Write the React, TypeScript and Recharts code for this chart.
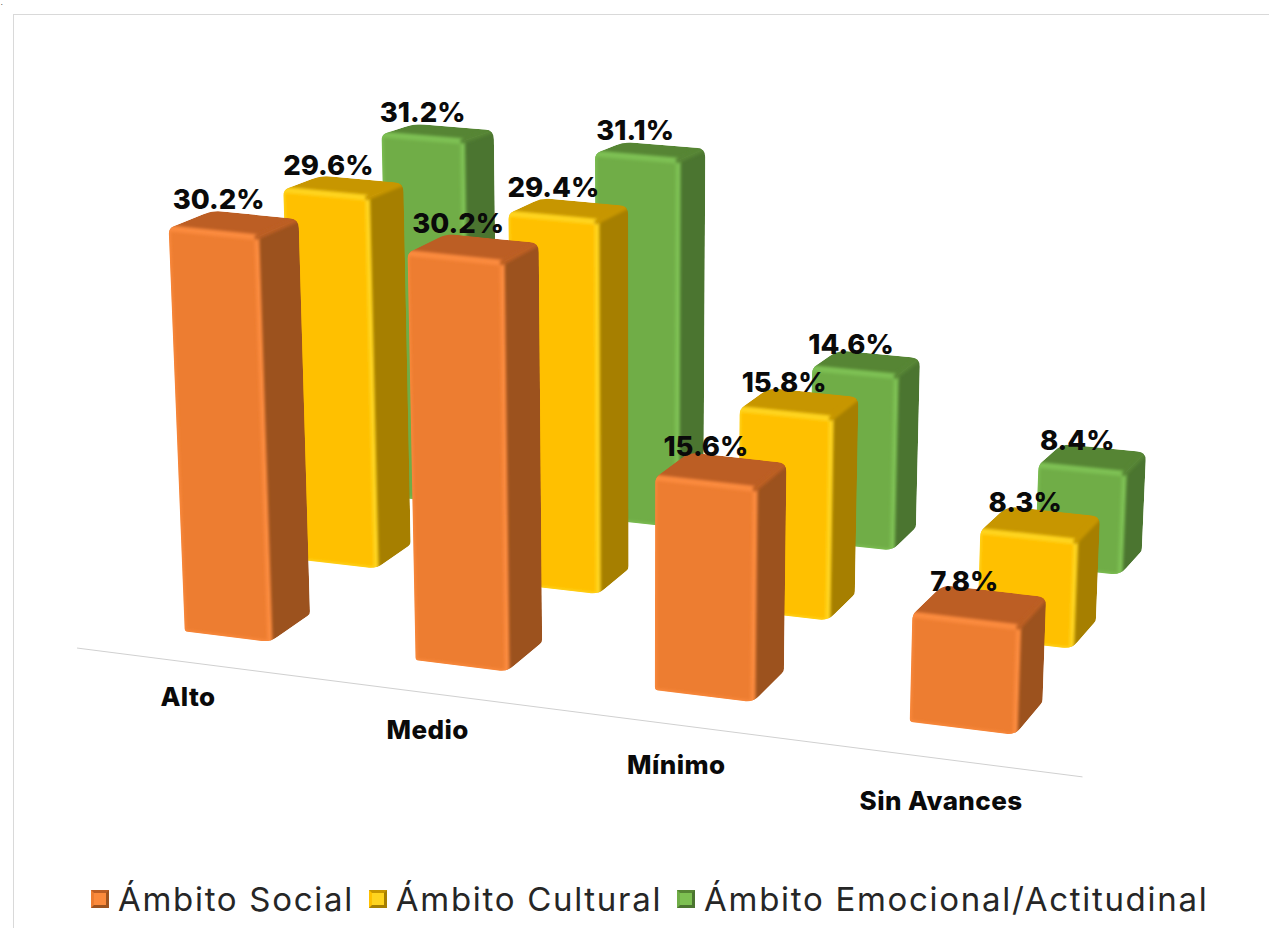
import React from "react";
import { BarChart, Bar, XAxis, YAxis, Legend, LabelList } from "recharts";

const CATEGORIES = ["Alto", "Medio", "Mínimo", "Sin Avances"];
const SOCIAL = [30.2, 30.2, 15.6, 7.8];
const CULTURAL = [29.6, 29.4, 15.8, 8.3];
const EMOCIONAL = [31.2, 31.1, 14.6, 8.4];

const SERIES_NAMES = ["Ámbito Social", "Ámbito Cultural", "Ámbito Emocional/Actitudinal"];

const rows = CATEGORIES.map((name, i) => ({
  name,
  social: SOCIAL[i],
  cultural: CULTURAL[i],
  emocional: EMOCIONAL[i],
}));

const PALETTE = [
  { front: "#ED7D31", edge: "#FB8A3C", top: "#BC5E24", side: "#9C521E" },
  { front: "#FFC000", edge: "#FFD41F", top: "#C79600", side: "#A67F00" },
  { front: "#70AD47", edge: "#7DC052", top: "#568534", side: "#4B7530" },
];

const WIDTH = 1269;
const HEIGHT = 928;
const FONT = "Inter, 'Open Sans', sans-serif";

// floor plane: p runs along the categories, q runs back through the series
const CAT_P = [0, 0.3355, 0.666, 1];
const SERIES_Q = 0.5;
const BAR_Q = 0.18;
const FLOOR = { a: 667.9, b: 270.5, c: 270, d: 37.1, e: -58.8, f: 642, g: -0.076, h: 0.1549 };
const VANISH_X = 640;
const VANISH_Y = 12000;

type Pt = [number, number];

const ground = (p: number, q: number): Pt => {
  const { a, b, c, d, e, f, g, h } = FLOOR;
  const w = g * p + h * q + 1;
  return [(a * p + b * q + c) / w, (d * p + e * q + f) / w];
};

// rise above the floor, verticals lean towards a point far below the chart
const lift = (p: number, q: number, px: number): Pt => {
  const [x, y] = ground(p, q);
  const rise = px * (1 + 0.03 * p - 0.13 * q);
  return [x + ((x - VANISH_X) * rise) / (VANISH_Y - y), y - rise];
};

const barBox = (index: number, series: number, px: number) => {
  const p1 = CAT_P[index];
  const q0 = series * SERIES_Q;
  const p0 = p1 - (0.125 + 0.007 * p1 + 0.005 * q0 - 0.014 * p1 * q0);
  const q1 = q0 + BAR_Q;
  // the far edge opens out a little towards the right of the chart
  const back = (pt: Pt): Pt => [pt[0] + 6 * p1 * p1, pt[1]];
  return {
    flb: ground(p0, q0),
    frb: ground(p1, q0),
    brb: back(ground(p1, q1)),
    flt: lift(p0, q0, px),
    frt: lift(p1, q0, px),
    brt: back(lift(p1, q1, px)),
    blt: back(lift(p0, q1, px)),
  };
};

const poly = (pts: Pt[]) => pts.map((v) => v.map((n) => n.toFixed(1)).join(",")).join(" ");

// closed path with each corner cut by its own radius
const roundedPath = (pts: Pt[], radii: number[]) => {
  let d = "";
  pts.forEach((pt, i) => {
    const prev = pts[(i + pts.length - 1) % pts.length];
    const next = pts[(i + 1) % pts.length];
    const toward = (o: Pt): Pt => {
      const len = Math.hypot(o[0] - pt[0], o[1] - pt[1]) || 1;
      const r = Math.min(radii[i], len / 2);
      return [pt[0] + ((o[0] - pt[0]) * r) / len, pt[1] + ((o[1] - pt[1]) * r) / len];
    };
    const a = toward(prev);
    const b = toward(next);
    d += `${i ? "L" : "M"}${a[0].toFixed(1)} ${a[1].toFixed(1)} Q${pt[0].toFixed(1)} ${pt[1].toFixed(1)} ${b[0].toFixed(1)} ${b[1].toFixed(1)} `;
  });
  return d + "Z";
};

const barShape = (series: number) => (props: any) => {
  const { index, height } = props;
  const c = PALETTE[series];
  const { flb, frb, brb, flt, frt, brt, blt } = barBox(index, series, height);
  const clipId = `bar-${series}-${index}`;
  const outline = roundedPath([flb, frb, brb, brt, blt, flt], [3, 9, 3, 9, 10, 6]);
  return (
    <g>
      <clipPath id={clipId}>
        <path d={outline} />
      </clipPath>
      <g clipPath={`url(#${clipId})`}>
        <polygon points={poly([flb, frb, frt, flt])} fill={c.front} />
        <polygon points={poly([frb, brb, brt, frt])} fill={c.side} />
        <polygon points={poly([flt, frt, brt, blt])} fill={c.top} />
        <g filter="url(#bevel)" fill="none" strokeLinecap="round">
          <line x1={flt[0]} y1={flt[1]} x2={frt[0]} y2={frt[1]} stroke={c.edge} strokeWidth={6} />
          <line x1={frt[0]} y1={frt[1]} x2={frb[0]} y2={frb[1]} stroke={c.edge} strokeWidth={5} />
          <line x1={flt[0]} y1={flt[1]} x2={flb[0]} y2={flb[1]} stroke={c.edge} strokeWidth={3} />
          <line x1={frt[0]} y1={frt[1]} x2={brt[0]} y2={brt[1]} stroke={c.top} strokeWidth={5} />
          <line x1={flb[0]} y1={flb[1]} x2={frb[0]} y2={frb[1]} stroke={c.edge} strokeWidth={3} />
        </g>
      </g>
    </g>
  );
};

// value labels sit over the back left of the bar's top face
const valueLabel = (series: number) => (props: any) => {
  const { index, height, value } = props;
  const { flt, brt, blt } = barBox(index, series, height);
  const x = (flt[0] + brt[0]) / 2 - 15;
  const y = blt[1] - 1 + 10 * (1 - height / 400);
  return (
    <text x={x} y={y} textAnchor="middle" fontFamily={FONT} fontSize={27.5} fontWeight={800} fill="#0a0a0a">
      {`${Number(value).toFixed(1)}%`}
    </text>
  );
};

const CategoryTick = (props: any) => {
  const { index, payload } = props;
  const p = CAT_P[index];
  const [gx, gy] = ground(p, 0);
  return (
    <text
      x={gx - 82 + 8 * p}
      y={gy + 64 + 11 * p}
      textAnchor="middle"
      fontFamily={FONT}
      fontSize={26}
      fontWeight={800}
      letterSpacing={0.4}
      fill="#0a0a0a"
    >
      {payload.value}
    </text>
  );
};

const LegendRow = () => (
  <div style={{ display: "flex", alignItems: "center", fontFamily: FONT, fontSize: 33, letterSpacing: 1.7, color: "#262626", whiteSpace: "nowrap" }}>
    {SERIES_NAMES.map((name, i) => (
      <span key={name} style={{ display: "flex", alignItems: "center", marginRight: 15 }}>
        <span
          style={{
            display: "inline-block",
            width: 12,
            height: 12,
            marginRight: 9,
            background: PALETTE[i].edge,
            border: `3px solid ${PALETTE[i].side}`,
            borderTopColor: PALETTE[i].top,
            borderLeftColor: PALETTE[i].front,
          }}
        />
        {name}
      </span>
    ))}
  </div>
);

const App = () => {
  const [lineA, lineB] = [ground(-0.225, -0.16), ground(1.105, -0.16)];
  return (
    <div style={{ position: "absolute", left: 0, top: 0, width: WIDTH, height: HEIGHT, overflow: "hidden", background: "#fff" }}>
      <div style={{ position: "absolute", left: 13, top: 14, right: 0, bottom: 0, borderTop: "1px solid #d9d9d9", borderLeft: "1px solid #d9d9d9" }} />
      <span style={{ position: "absolute", left: 1, top: 0, fontSize: 6, fontWeight: 700, fontFamily: "serif" }}>.</span>
      <BarChart
        width={WIDTH}
        height={HEIGHT}
        data={rows}
        margin={{ top: 100, right: 0, bottom: 329, left: 0 }}
        style={{ position: "absolute", left: 0, top: 0 }}
      >
        <defs>
          <filter id="bevel" x="-20%" y="-20%" width="140%" height="140%">
            <feGaussianBlur stdDeviation="1.4" />
          </filter>
        </defs>
        <line x1={lineA[0]} y1={lineA[1]} x2={lineB[0]} y2={lineB[1]} stroke="#d0d0d0" strokeWidth={1} />
        <XAxis dataKey="name" axisLine={false} tickLine={false} interval={0} height={30} tick={<CategoryTick />} />
        <YAxis hide domain={[0, 35]} />
        <Legend
          verticalAlign="middle"
          layout="horizontal"
          content={<LegendRow />}
          wrapperStyle={{ position: "absolute", left: 91, top: 879, width: "auto" }}
        />
        {/* painted back to front, the rows nearest the viewer go last */}
        <Bar dataKey="emocional" isAnimationActive={false} shape={barShape(2)} />
        <Bar dataKey="cultural" isAnimationActive={false} shape={barShape(1)} />
        <Bar dataKey="social" isAnimationActive={false} shape={barShape(0)} />
        <Bar dataKey="emocional" isAnimationActive={false} shape={() => null}>
          <LabelList dataKey="emocional" content={valueLabel(2)} />
        </Bar>
        <Bar dataKey="cultural" isAnimationActive={false} shape={() => null}>
          <LabelList dataKey="cultural" content={valueLabel(1)} />
        </Bar>
        <Bar dataKey="social" isAnimationActive={false} shape={() => null}>
          <LabelList dataKey="social" content={valueLabel(0)} />
        </Bar>
      </BarChart>
    </div>
  );
};

export default App;
